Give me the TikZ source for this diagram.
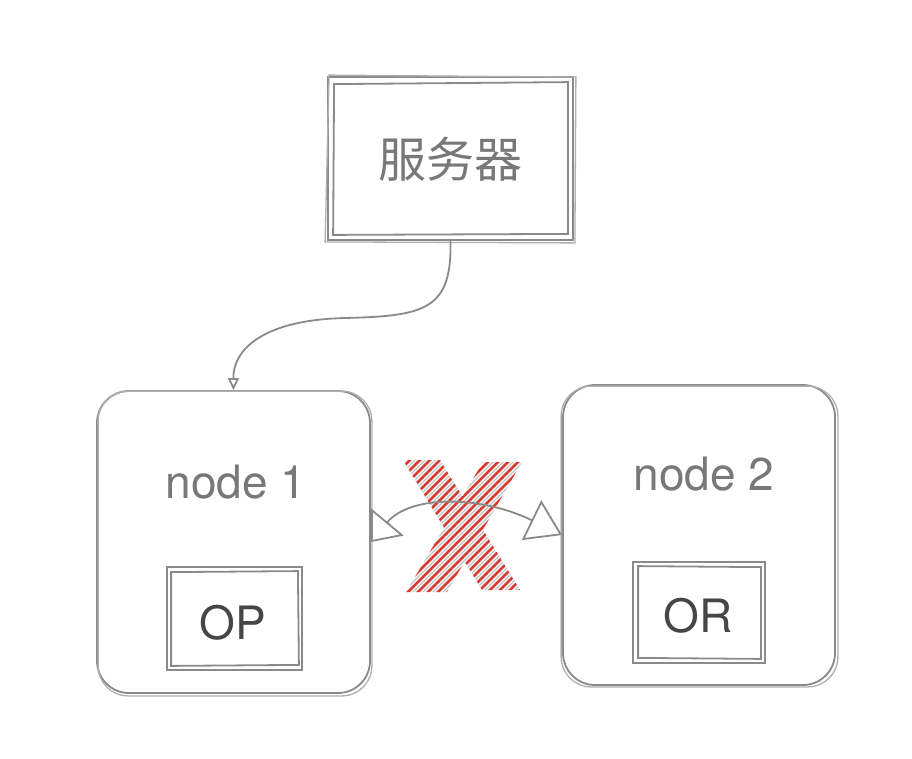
\documentclass[tikz,border=0pt]{standalone}
\usepackage{fontspec}
\setmainfont{TeX Gyre Heros}
\newfontfamily\cjk{Noto Sans CJK SC}
\usetikzlibrary{arrows.meta,calc}
\definecolor{skgray}{RGB}{138,138,138}
\definecolor{skgraylt}{RGB}{175,175,175}
\definecolor{txtgray}{RGB}{120,120,120}
\definecolor{txtdark}{RGB}{70,70,70}
\definecolor{xred}{RGB}{214,58,48}
\tikzset{
  skline/.style={draw=skgray, line width=1.8pt},
  skline2/.style={draw=skgraylt, line width=1.3pt},
  sqbox/.style={skline, rectangle, inner sep=0pt},
  rbox/.style={skline, rectangle, rounded corners=32pt, inner sep=0pt},
  lbl/.style={font=\fontsize{46}{50}\selectfont, text=txtgray, inner sep=0pt, anchor=base},
  lbldark/.style={font=\fontsize{46}{50}\selectfont, text=txtdark, inner sep=0pt, anchor=base},
  hatch/.style={draw=xred, line width=2.8pt, line cap=round},
  hatchsh/.style={draw=skgraylt!70, line width=1.4pt, line cap=round}
}
\begin{document}
\begin{tikzpicture}[x=1pt,y=-1pt]
\useasboundingbox (0,0) rectangle (912,758);

% server
\node[sqbox, minimum width=245pt, minimum height=163pt] (srv) at (450.5,158.5) {};
\draw[skline] ($(srv.north west)+(7,8)$) -- ($(srv.north east)+(-6,6)$) -- ($(srv.south east)+(-6,-7)$) -- ($(srv.south west)+(6,-6)$) -- cycle;
\draw[skline2] ($(srv.north west)+(2,-1)$) -- ($(srv.north east)+(2,1)$) -- ($(srv.south east)+(1,2)$) -- ($(srv.south west)+(-2,1)$) -- cycle;
\node[font=\cjk\fontsize{48}{52}\selectfont, text=txtgray, inner sep=0pt] (srvt) at (450,159) {服务器};

% node 1
\node[rbox, minimum width=273pt, minimum height=302pt] (n1) at (233.5,542) {};
\draw[skline2, rounded corners=30pt] ($(n1.north west)+(2,1)$) rectangle ($(n1.south east)+(1,2)$);
\node[lbl] (n1t) at (236,498) {node 1};
\node[sqbox, minimum width=135pt, minimum height=103pt] (op) at (234.5,618.5) {};
\draw[skline] ($(op.north west)+(5,6)$) -- ($(op.north east)+(-5,5)$) -- ($(op.south east)+(-4,-6)$) -- ($(op.south west)+(5,-5)$) -- cycle;
\node[lbldark] (opt) at (233,639) {OP};

% node 2
\node[rbox, minimum width=272pt, minimum height=300pt] (n2) at (699,535) {};
\draw[skline2, rounded corners=30pt] ($(n2.north west)+(-1,2)$) rectangle ($(n2.south east)+(2,1)$);
\node[lbl] (n2t) at (704,490) {node 2};
\node[sqbox, minimum width=132pt, minimum height=101pt] (or) at (699,612.5) {};
\draw[skline] ($(or.north west)+(6,5)$) -- ($(or.north east)+(-5,6)$) -- ($(or.south east)+(-5,-5)$) -- ($(or.south west)+(6,-6)$) -- cycle;
\node[lbldark] (ort) at (698,632) {OR};

% hatched cross
\begin{scope}
\clip (403,460) -- (440,460) -- (520,590) -- (482,590) -- cycle
      (483,462) -- (522,462) -- (447,592) -- (406,592) -- cycle;
\foreach \i in {0,...,40} {
  \draw[hatchsh] (264+\i*10,611) -- (424+\i*10,451);
  \draw[hatch] (260+\i*10,610) -- (420+\i*10,450);
}
\end{scope}

% connectors
\draw[skline, -{Triangle[open, length=12pt, width=11pt]}]
  (srv.south) .. controls (452,310) and (425,316) .. (345,318)
  .. controls (262,320) and (233,350) .. (n1.north);
\draw[skline, {Triangle[open, length=26pt, width=42pt]}-{Triangle[open, length=34pt, width=44pt]}]
  (n1.east) .. controls (410,495) and (480,495) .. (n2.west);
\end{tikzpicture}
\end{document}
